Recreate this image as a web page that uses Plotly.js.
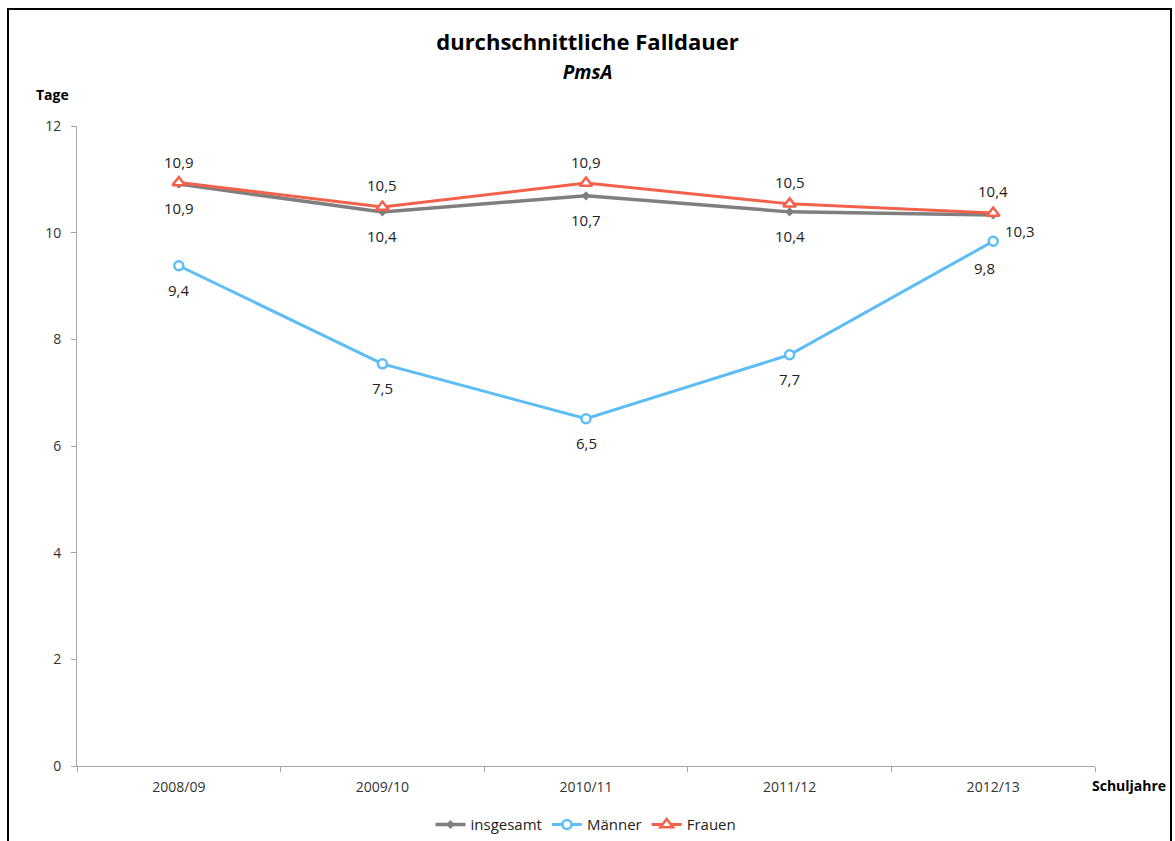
<!DOCTYPE html>
<html>
<head>
<meta charset="utf-8">
<script src="https://cdn.plot.ly/plotly-3.0.1.min.js"></script>
<style>
html,body{margin:0;padding:0;background:#fff;overflow:hidden;}
#wrap{position:relative;width:1175px;height:841px;}
#chart{width:1175px;height:841px;}
#frame{position:absolute;left:7px;top:8px;width:1161px;height:900px;border:2px solid #000;pointer-events:none;}
</style>
</head>
<body>
<div id="wrap"><div id="chart"></div><div id="frame"></div></div>
<script>
const categories = ["2008/09", "2009/10", "2010/11", "2011/12", "2012/13"];
const insgesamt = [10.91, 10.39, 10.69, 10.39, 10.33];
const maenner = [9.38, 7.54, 6.51, 7.71, 9.84];
const frauen = [10.94, 10.48, 10.93, 10.54, 10.37];
const yTicks = [0, 2, 4, 6, 8, 10, 12];

const fmt = v => v.toFixed(1).replace('.', ',');
const FONT = 'Open Sans, Noto Sans, sans-serif';
const labelFont = {family: FONT, size: 15, color: '#222'};

const traces = [
  {
    name: 'insgesamt', x: categories, y: insgesamt, type: 'scatter', mode: 'lines+markers',
    line: {color: '#7f7f7f', width: 3.5},
    marker: {symbol: 'diamond', size: 7, color: '#7f7f7f'}
  },
  {
    name: 'Männer', x: categories, y: maenner, type: 'scatter', mode: 'lines+markers',
    line: {color: '#5dbdf5', width: 3},
    marker: {symbol: 'circle', size: 9, color: '#ffffff', line: {color: '#5dbdf5', width: 2.5}}
  },
  {
    name: 'Frauen', x: categories, y: frauen, type: 'scatter', mode: 'lines+markers',
    line: {color: '#f2624a', width: 3},
    marker: {symbol: 'triangle-up', size: 11, color: '#ffffff', line: {color: '#f2624a', width: 2.5}}
  }
];

// data labels (offsets per series, relative to point)
const labelAnns = [];
function addLabels(vals, shifts) {
  vals.forEach((v, i) => {
    const s = shifts[i];
    labelAnns.push({x: categories[i], y: v, xref: 'x', yref: 'y', text: fmt(v), showarrow: false,
      xshift: s[0], yshift: s[1], font: labelFont});
  });
}
addLabels(insgesamt, [[0,-24],[0,-24],[0,-24],[0,-24],[27,-16]]);
addLabels(maenner, [[0,-24],[0,-24],[0,-24],[0,-24],[-9,-27]]);
addLabels(frauen, [[0,21],[0,22],[0,21],[0,22],[0,22]]);

const layout = {
  width: 1175, height: 841,
  paper_bgcolor: '#fff', plot_bgcolor: '#fff',
  margin: {l: 77, r: 80, t: 126, b: 75, autoexpand: false},
  font: {family: FONT, color: '#222'},
  title: {
    text: '<b>durchschnittliche Falldauer</b><br><span style="font-size:19px"><b><i>PmsA</i></b></span>',
    font: {family: FONT, size: 22, color: '#000'},
    x: 0.5, xanchor: 'center', y: 0.94, yanchor: 'top', yref: 'container'
  },
  xaxis: {
    type: 'category', range: [-0.5, 4.5], fixedrange: true,
    showline: true, linecolor: '#a6a6a6', linewidth: 1,
    ticks: 'outside', ticklen: 5, tickcolor: '#a6a6a6', tickson: 'boundaries',
    showgrid: false, zeroline: false, ticklabelstandoff: 8,
    tickfont: {family: FONT, size: 14, color: '#333'}
  },
  yaxis: {
    range: [0, 12], tickvals: yTicks, ticktext: yTicks.map(String), fixedrange: true,
    showline: true, linecolor: '#a6a6a6', linewidth: 1,
    ticks: 'outside', ticklen: 5, tickcolor: '#a6a6a6',
    showgrid: false, zeroline: false, ticklabelstandoff: 7,
    tickfont: {family: FONT, size: 14, color: '#333'}
  },
  showlegend: true,
  legend: {
    orientation: 'h', x: 0.5, xanchor: 'center', y: -0.066, yanchor: 'top',
    font: {family: FONT, size: 15, color: '#222'}, itemwidth: 30, traceorder: 'normal'
  },
  annotations: labelAnns.concat([
    {text: '<b>Tage</b>', xref: 'paper', yref: 'paper', x: -0.042, y: 1.032, xanchor: 'left', yanchor: 'bottom', showarrow: false, font: {family: FONT, size: 14, color: '#000'}},
    {text: '<b>Schuljahre</b>', xref: 'paper', yref: 'paper', x: 0.995, y: 0, yshift: -8, xanchor: 'left', yanchor: 'top', showarrow: false, font: {family: FONT, size: 14, color: '#000'}}
  ])
};

Plotly.newPlot('chart', traces, layout, {displayModeBar: false, staticPlot: true});
</script>
</body>
</html>
